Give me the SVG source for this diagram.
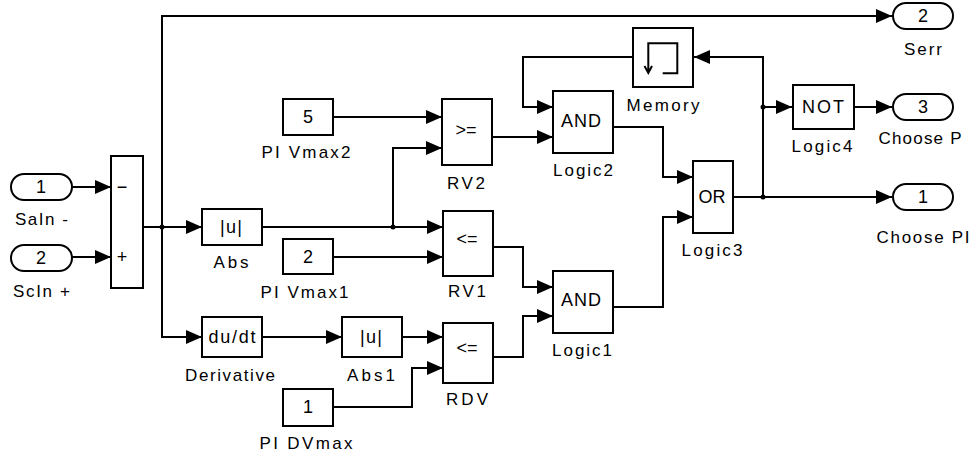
<svg xmlns="http://www.w3.org/2000/svg" width="973" height="455" viewBox="0 0 973 455">
<style>
.b{fill:#fff;stroke:#000;stroke-width:2}
.c{fill:none;stroke:#000;stroke-width:2}
text{font-family:"Liberation Sans",Arial,sans-serif;font-size:17px;fill:#000}
.m{text-anchor:middle}
.i{font-size:18px}
</style>
<defs>
<marker id="a" markerUnits="userSpaceOnUse" markerWidth="16" markerHeight="14" refX="16" refY="7" orient="auto" overflow="visible">
<path d="M0,0 L16,7 L0,14 z" fill="#000"/>
</marker>
</defs>
<rect width="973" height="455" fill="#fff"/>
<g id="connectors" class="c" marker-end="url(#a)">
<path d="M72,187 H111"/>
<path d="M72,257 H111"/>
<path d="M143,227 H202"/>
<path d="M162,227 V16 H892"/>
<path d="M162,227 V337 H202"/>
<path d="M262,227 H443"/>
<path d="M393,227 V148 H442"/>
<path d="M333,117 H442"/>
<path d="M492,137 H553"/>
<path d="M633,57 H523 V107 H553"/>
<path d="M613,127 H663 V177 H693"/>
<path d="M333,257 H443"/>
<path d="M493,247 H523 V287 H553"/>
<path d="M262,337 H342"/>
<path d="M402,337 H443"/>
<path d="M333,407 H412 V368 H443"/>
<path d="M493,357 H523 V316 H553"/>
<path d="M613,307 H663 V217 H693"/>
<path d="M733,197 H892"/>
<path d="M763,197 V57 H694"/>
<path d="M763,107 H792"/>
<path d="M854,107 H892"/>
<g fill="#000" stroke="none" marker-end="none">
<circle cx="162" cy="227" r="2.5"/>
<circle cx="393" cy="227" r="2.5"/>
<circle cx="763" cy="197" r="2.5"/>
<circle cx="763" cy="107" r="2.5"/>
</g>
</g>
<g id="in1"><rect class="b" x="11" y="174" width="61" height="26" rx="13"/><text class="m i" x="41" y="193">1</text><text class="m" x="41.5" y="225" textLength="53" lengthAdjust="spacing">SaIn -</text></g>
<g id="in2"><rect class="b" x="11" y="245" width="61" height="26" rx="13"/><text class="m i" x="41" y="264">2</text><text class="m" x="41.5" y="297" textLength="57" lengthAdjust="spacing">ScIn +</text></g>
<g id="sum"><rect class="b" x="111" y="156" width="32" height="132"/><text class="m i" x="122" y="193">−</text><text class="m i" x="122" y="263">+</text></g>
<g id="abs"><rect class="b" x="202" y="209" width="60" height="36"/><text class="m i" x="231" y="233" textLength="22" lengthAdjust="spacing">|u|</text><text class="m" x="231" y="268" textLength="35" lengthAdjust="spacing">Abs</text></g>
<g id="pivmax2"><rect class="b" x="283" y="99" width="50" height="36"/><text class="m i" x="308" y="123">5</text><text class="m" x="306" y="158" textLength="89" lengthAdjust="spacing">PI Vmax2</text></g>
<g id="pivmax1"><rect class="b" x="283" y="239" width="50" height="35"/><text class="m i" x="308" y="263">2</text><text class="m" x="304.5" y="298" textLength="88" lengthAdjust="spacing">PI Vmax1</text></g>
<g id="pidvmax"><rect class="b" x="283" y="389" width="50" height="37"/><text class="m i" x="308" y="413">1</text><text class="m" x="306" y="449" textLength="93" lengthAdjust="spacing">PI DVmax</text></g>
<g id="derivative"><rect class="b" x="202" y="317" width="60" height="40"/><text class="m i" x="232" y="343" textLength="47" lengthAdjust="spacing">du/dt</text><text class="m" x="230" y="381" textLength="90" lengthAdjust="spacing">Derivative</text></g>
<g id="abs1"><rect class="b" x="342" y="317" width="60" height="40"/><text class="m i" x="371" y="343" textLength="22" lengthAdjust="spacing">|u|</text><text class="m" x="371" y="381" textLength="48" lengthAdjust="spacing">Abs1</text></g>
<g id="rv2"><rect class="b" x="442" y="99" width="50" height="66"/><text class="m i" x="466" y="136">&gt;=</text><text class="m" x="466" y="189" textLength="38" lengthAdjust="spacing">RV2</text></g>
<g id="rv1"><rect class="b" x="443" y="211" width="50" height="65"/><text class="m i" x="467" y="245">&lt;=</text><text class="m" x="467" y="297" textLength="38" lengthAdjust="spacing">RV1</text></g>
<g id="rdv"><rect class="b" x="443" y="323" width="50" height="60"/><text class="m i" x="467" y="354">&lt;=</text><text class="m" x="467" y="405" textLength="42" lengthAdjust="spacing">RDV</text></g>
<g id="memory"><rect class="b" x="633" y="28" width="60" height="59"/><path class="c" d="M662.7,73.3 H677.3 V43.3 H648.3 V72 M644.5,66 L648.3,73 L652,66"/><text class="m" x="663" y="111" textLength="73" lengthAdjust="spacing">Memory</text></g>
<g id="logic2"><rect class="b" x="553" y="91" width="60" height="62"/><text class="m i" x="581" y="127" textLength="40" lengthAdjust="spacing">AND</text><text class="m" x="583" y="176" textLength="60" lengthAdjust="spacing">Logic2</text></g>
<g id="logic1"><rect class="b" x="553" y="271" width="60" height="62"/><text class="m i" x="581" y="306" textLength="40" lengthAdjust="spacing">AND</text><text class="m" x="582" y="356" textLength="60" lengthAdjust="spacing">Logic1</text></g>
<g id="logic3"><rect class="b" x="693" y="161" width="40" height="72"/><text class="m i" x="712" y="203" textLength="27" lengthAdjust="spacing">OR</text><text class="m" x="712" y="256" textLength="61" lengthAdjust="spacing">Logic3</text></g>
<g id="logic4"><rect class="b" x="793" y="85" width="61" height="44"/><text class="m i" x="823" y="113" textLength="42" lengthAdjust="spacing">NOT</text><text class="m" x="822" y="152" textLength="61" lengthAdjust="spacing">Logic4</text></g>
<g id="serr"><rect class="b" x="893" y="3" width="60" height="26" rx="13"/><text class="m i" x="923" y="22">2</text><text class="m" x="923" y="55" textLength="38" lengthAdjust="spacing">Serr</text></g>
<g id="choosep"><rect class="b" x="893" y="94" width="60" height="26" rx="13"/><text class="m i" x="923" y="113">3</text><text class="m" x="920" y="144" textLength="83" lengthAdjust="spacing">Choose P</text></g>
<g id="choosepi"><rect class="b" x="893" y="184" width="60" height="26" rx="13"/><text class="m i" x="923" y="203">1</text><text class="m" x="923" y="243" textLength="93" lengthAdjust="spacing">Choose PI</text></g>
</svg>
